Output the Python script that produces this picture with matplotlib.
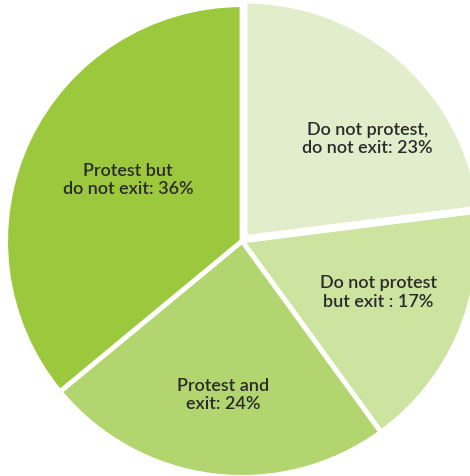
import matplotlib.pyplot as plt

# slices, clockwise from 12 o'clock
labels = ["Do not protest,\ndo not exit: 23%",
          "Do not protest\nbut exit : 17%",
          "Protest and\nexit: 24%",
          "Protest but\ndo not exit: 36%"]
shares = [23, 17, 24, 36]
colors = ["#e2edcb", "#cde3a0", "#b3d56f", "#9bc83c"]

# where each label sits (axes fraction)
label_pos = [(0.781, 0.708), (0.805, 0.386), (0.475, 0.170), (0.272, 0.622)]

fig = plt.figure(figsize=(4.70, 4.76), dpi=100)
ax = fig.add_axes([0, 0, 1, 1])

wedges, texts = ax.pie(shares, colors=colors, startangle=90, counterclock=False,
                       explode=[0.02, 0, 0, 0], radius=1.01, labels=labels,
                       wedgeprops=dict(edgecolor="white", linewidth=3.5))

for t, (x, y) in zip(texts, label_pos):
    t.set_position((x, y))
    t.set_transform(ax.transAxes)
    t.set_ha("center")
    t.set_va("center")
    t.set_family(["Lato", "DejaVu Sans"])
    t.set_fontsize(13)
    t.set_fontweight("semibold")
    t.set_color("#2a2a2a")
    t.set_linespacing(1.2)

# pie is cropped by the frame on the right and bottom
ax.set_aspect("auto")
ax.set_xlim(-1.034, 0.974)
ax.set_ylim(-1.004, 1.030)
ax.axis("off")

plt.savefig("out.png", dpi=100)
